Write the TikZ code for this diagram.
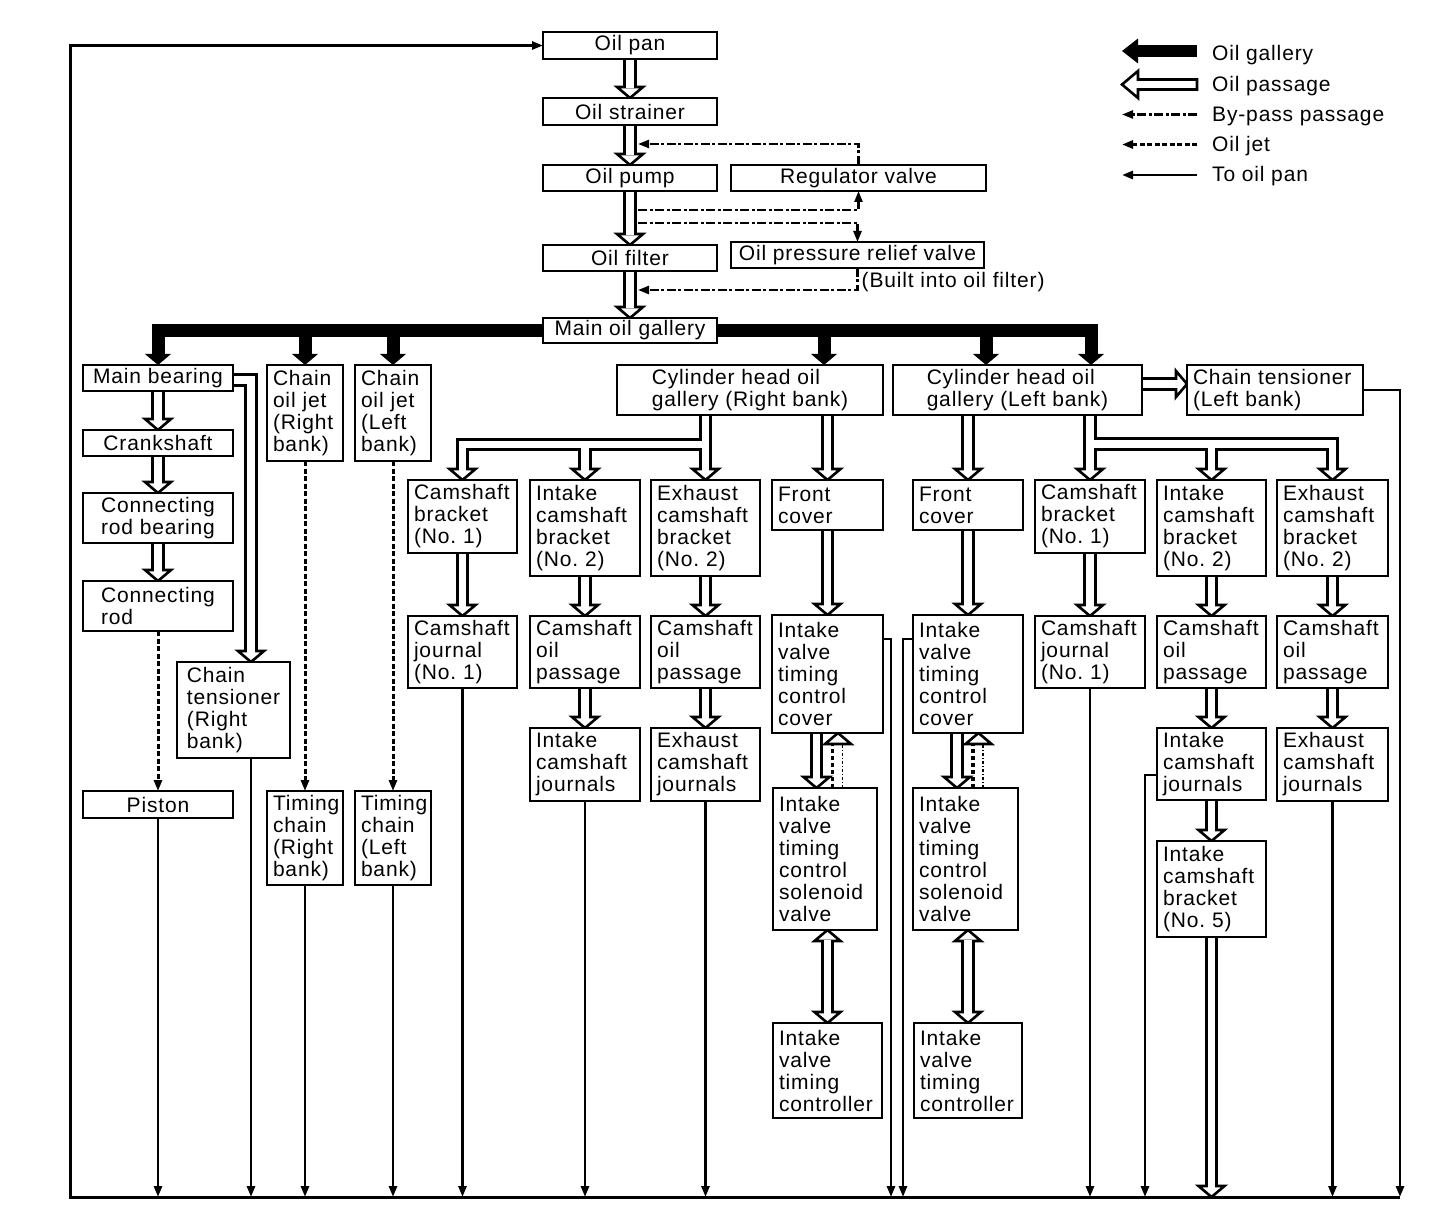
\documentclass[tikz,border=0pt]{standalone}
\usepackage{fontspec}
\setmainfont{Liberation Sans}[LetterSpace=4]
\usetikzlibrary{calc,arrows.meta}
\pgfdeclarelayer{bg}
\pgfsetlayers{bg,main}
% left-aligned box: name, x1, y1, x2, y2, text
\newcommand\lbx[6]{%
  \pgfmathsetmacro\bxw{#4-#2}\pgfmathsetmacro\bxh{#5-#3}%
  \pgfmathsetmacro\bxt{#4-#2-12}%
  \pgfmathsetmacro\bxx{(#2+#4)/2}\pgfmathsetmacro\bxy{(#3+#5)/2}%
  \node[nbox, text width=\bxt pt, minimum width=\bxw pt, minimum height=\bxh pt, inner xsep=6pt] (#1) at (\bxx,\bxy) {#6};}
% centred box
\newcommand\cbx[6]{%
  \pgfmathsetmacro\bxw{#4-#2}\pgfmathsetmacro\bxh{#5-#3}%
  \pgfmathsetmacro\bxx{(#2+#4)/2}\pgfmathsetmacro\bxy{(#3+#5)/2}%
  \node[nbox, minimum width=\bxw pt, minimum height=\bxh pt, inner xsep=4pt] (#1) at (\bxx,\bxy) {#6};}
\newcommand\hdown[1]{\draw[phead] (#1) -- ++(-13,-11) -- ++(26,0) -- cycle;}
\newcommand\hup[1]{\draw[phead] (#1) -- ++(-13,11) -- ++(26,0) -- cycle;}
\newcommand\ghead[1]{\fill (#1) -- ++(-13,-11) -- ++(26,0) -- cycle;}
\newcommand\pdown[2]{%
  \draw[pblack] (#1) -- ($(#2)+(0,-11)$);
  \hdown{#2}
  \draw[pwhite] (#1) -- ($(#2)+(0,-9.5)$);}
\newcommand\pboth[2]{%
  \draw[pblack] ($(#1)+(0,11)$) -- ($(#2)+(0,-11)$);
  \hup{#1}\hdown{#2}
  \draw[pwhite] ($(#1)+(0,9.5)$) -- ($(#2)+(0,-9.5)$);}
\begin{document}
\begin{tikzpicture}[x=1pt,y=-1pt,
  nbox/.style={draw, fill=white, line width=2.8pt, align=left, inner ysep=1pt, outer sep=0pt, font=\fontsize{21}{22}\selectfont},
  lbl/.style={inner sep=0pt, font=\fontsize{21}{22}\selectfont},
  pblack/.style={line width=13.5pt, line join=miter, line cap=butt},
  pwhite/.style={white, line width=7.5pt, line join=miter, line cap=butt},
  phead/.style={draw=black, fill=white, line width=2.6pt, line join=miter},
  gal/.style={line width=13pt, line join=miter},
  tip/.style={-{Triangle[length=11pt,width=8pt]}},
  ret/.style={line width=2.8pt, tip},
  jet/.style={line width=3pt, dash pattern=on 5pt off 2.5pt, tip},
  bypass/.style={line width=2.4pt, dash pattern=on 9pt off 2.5pt on 3pt off 2.5pt, tip},
  jetline/.style={line width=3.2pt, dash pattern=on 4pt off 3pt},
  bpline/.style={line width=1.8pt, dash pattern=on 3pt off 2pt on 1pt off 2pt}]
\useasboundingbox (0,0) rectangle (1456,1230);

% ---------- nodes ----------
\cbx{pan}{543}{32}{717}{59}{Oil pan}
\cbx{strainer}{543}{98}{717}{125}{Oil strainer}
\cbx{pump}{543}{165}{717}{191}{Oil pump}
\cbx{reg}{731}{165}{986}{191}{Regulator valve}
\cbx{filter}{543}{245}{717}{271}{Oil filter}
\cbx{relief}{731}{242}{984}{268}{Oil pressure relief valve}
\cbx{main}{543}{318}{717}{343}{Main oil gallery}
\node[lbl, anchor=west] (built) at ($(relief.south)+(4,14)$) {(Built into oil filter)};

\cbx{mb}{83}{365}{233}{391}{Main bearing}
\cbx{crank}{83}{430}{233}{456}{Crankshaft}
\cbx{crb}{83}{493}{233}{543}{Connecting\\rod bearing}
\cbx{cr}{83}{581}{233}{631}{Connecting\\rod}
\cbx{piston}{83}{791}{233}{818}{Piston}
\cbx{ctr}{177}{662}{290}{758}{Chain\\tensioner\\(Right\\bank)}
\lbx{cojr}{267}{365}{343}{461}{Chain\\oil jet\\(Right\\bank)}
\lbx{cojl}{355}{365}{431}{461}{Chain\\oil jet\\(Left\\bank)}
\lbx{tcr}{267}{791}{343}{885}{Timing\\chain\\(Right\\bank)}
\lbx{tcl}{355}{791}{431}{885}{Timing\\chain\\(Left\\bank)}

\cbx{chr}{617}{365}{883}{415}{Cylinder head oil\\gallery (Right bank)}
\lbx{cbr}{408}{480}{517}{553}{Camshaft\\bracket\\(No.\ 1)}
\lbx{icbr}{530}{480}{640}{576}{Intake\\camshaft\\bracket\\(No.\ 2)}
\lbx{ecbr}{651}{480}{760}{576}{Exhaust\\camshaft\\bracket\\(No.\ 2)}
\lbx{fcr}{772}{480}{883}{530}{Front\\cover}
\lbx{cjr}{408}{616}{517}{688}{Camshaft\\journal\\(No.\ 1)}
\lbx{copr}{530}{616}{640}{688}{Camshaft\\oil\\passage}
\lbx{eopr}{651}{616}{760}{688}{Camshaft\\oil\\passage}
\lbx{vtcr}{772}{615}{883}{733}{Intake\\valve\\timing\\control\\cover}
\lbx{icjr}{530}{728}{640}{801}{Intake\\camshaft\\journals}
\lbx{ecjr}{651}{728}{760}{801}{Exhaust\\camshaft\\journals}
\lbx{solr}{773}{788}{877}{930}{Intake\\valve\\timing\\control\\solenoid\\valve}
\lbx{ctlr}{773}{1023}{882}{1118}{Intake\\valve\\timing\\controller}

\cbx{chl}{893}{365}{1142}{415}{Cylinder head oil\\gallery (Left bank)}
\lbx{ctl}{1187}{365}{1363}{415}{Chain tensioner\\(Left bank)}
\lbx{fcl}{913}{480}{1023}{530}{Front\\cover}
\lbx{vtcl}{913}{615}{1023}{733}{Intake\\valve\\timing\\control\\cover}
\lbx{soll}{913}{788}{1018}{930}{Intake\\valve\\timing\\control\\solenoid\\valve}
\lbx{ctll}{914}{1023}{1022}{1118}{Intake\\valve\\timing\\controller}
\lbx{cbl}{1035}{480}{1145}{553}{Camshaft\\bracket\\(No.\ 1)}
\lbx{icbl}{1157}{480}{1266}{576}{Intake\\camshaft\\bracket\\(No.\ 2)}
\lbx{ecbl}{1277}{480}{1388}{576}{Exhaust\\camshaft\\bracket\\(No.\ 2)}
\lbx{cjl}{1035}{616}{1145}{688}{Camshaft\\journal\\(No.\ 1)}
\lbx{copl}{1157}{616}{1266}{688}{Camshaft\\oil\\passage}
\lbx{eopl}{1277}{616}{1388}{688}{Camshaft\\oil\\passage}
\lbx{icjl}{1157}{728}{1266}{800}{Intake\\camshaft\\journals}
\lbx{ecjl}{1277}{728}{1388}{801}{Exhaust\\camshaft\\journals}
\lbx{icb5}{1157}{841}{1266}{937}{Intake\\camshaft\\bracket\\(No.\ 5)}

% legend texts
\node[lbl, anchor=base west] (lg1) at (1212,60.5) {Oil gallery};
\node[lbl, anchor=base west] (lg2) at (1212,91.5) {Oil passage};
\node[lbl, anchor=base west] (lg3) at (1212,121.5) {By-pass passage};
\node[lbl, anchor=base west] (lg4) at (1212,151.5) {Oil jet};
\node[lbl, anchor=base west] (lg5) at (1212,182) {To oil pan};

% ---------- connectors ----------
\begin{pgfonlayer}{bg}
% main gallery (thick black)
\coordinate (g4) at ($(chr.north west)+(207,0)$);
\coordinate (g5) at ($(chl.north west)+(93,0)$);
\coordinate (g6) at ($(chl.north west)+(198,0)$);
\draw[gal] (main) -| ($(mb.north)+(0,-10)$);
\draw[gal] (main) -| ($(cojr.north)+(0,-10)$);
\draw[gal] (main) -| ($(cojl.north)+(0,-10)$);
\draw[gal] (main) -| ($(g4)+(0,-10)$);
\draw[gal] (main) -| ($(g5)+(0,-10)$);
\draw[gal] (main) -| ($(g6)+(0,-10)$);
\ghead{mb.north}\ghead{cojr.north}\ghead{cojl.north}\ghead{g4}\ghead{g5}\ghead{g6}

% top column passages
\pdown{pan.south}{strainer.north}
\pdown{strainer.south}{pump.north}
\pdown{pump.south}{filter.north}
\pdown{filter.south}{main.north}

% crank side
\pdown{mb.south}{crank.north}
\pdown{crank.south}{crb.north}
\pdown{crb.south}{cr.north}
\coordinate (m1) at ($(mb.east)+(0,2)$);
\coordinate (m2) at ($(ctr.north west)+(74,0)$);
\draw[pblack] (m1) -| ($(m2)+(0,-11)$);
\hdown{m2}
\draw[pwhite] (m1) -| ($(m2)+(0,-9.5)$);

% right bank fork
\coordinate (fr0) at (ecbr.north |- chr.south);
\coordinate (fr1) at ($(fr0)+(0,29.5)$);
\coordinate (fr2) at (icbr.north |- fr1);
\draw[pblack] (fr0) -- ($(ecbr.north)+(0,-11)$) (fr1) -| ($(cbr.north)+(0,-11)$) (fr2) -- ($(icbr.north)+(0,-11)$);
\hdown{ecbr.north}\hdown{cbr.north}\hdown{icbr.north}
\draw[pwhite] (fr0) -- ($(ecbr.north)+(0,-9.5)$) (fr1) -| ($(cbr.north)+(0,-9.5)$) (fr2) -- ($(icbr.north)+(0,-9.5)$);
\pdown{cbr.south}{cjr.north}
\pdown{icbr.south}{copr.north}
\pdown{copr.south}{icjr.north}
\pdown{ecbr.south}{eopr.north}
\pdown{eopr.south}{ecjr.north}
\coordinate (c1) at (fcr.north |- chr.south);
\pdown{c1}{fcr.north}
\pdown{fcr.south}{vtcr.north}
\coordinate (v1) at ($(vtcr.south)+(-11,0)$);
\coordinate (v2) at (v1 |- solr.north);
\pdown{v1}{v2}
\coordinate (v3) at (vtcr.south |- solr.south);
\coordinate (v4) at (vtcr.south |- ctlr.north);
\pboth{v3}{v4}
\coordinate (u0) at ($(vtcr.south)+(10.5,0)$);
\coordinate (u1) at ($(vtcr.south)+(5,11)$);
\coordinate (u2) at ($(vtcr.south)+(15,11)$);
\draw[jetline] (u1 |- solr.north) -- (u1);
\draw[bpline] (u2 |- solr.north) -- (u2);
\hup{u0}

% left bank fork
\coordinate (fl0) at (cbl.north |- chl.south);
\coordinate (fl1) at ($(fl0)+(0,29)$);
\coordinate (fl2) at (icbl.north |- fl1);
\draw[pblack] (fl0) -- ($(cbl.north)+(0,-11)$) (fl1) -| ($(ecbl.north)+(0,-11)$) (fl2) -- ($(icbl.north)+(0,-11)$);
\hdown{cbl.north}\hdown{ecbl.north}\hdown{icbl.north}
\draw[pwhite] (fl0) -- ($(cbl.north)+(0,-9.5)$) (fl1) -| ($(ecbl.north)+(0,-9.5)$) (fl2) -- ($(icbl.north)+(0,-9.5)$);
\pdown{cbl.south}{cjl.north}
\pdown{icbl.south}{copl.north}
\pdown{copl.south}{icjl.north}
\pdown{icjl.south}{icb5.north}
\pdown{ecbl.south}{eopl.north}
\pdown{eopl.south}{ecjl.north}
\coordinate (c2) at (fcl.north |- chl.south);
\pdown{c2}{fcl.north}
\pdown{fcl.south}{vtcl.north}
\coordinate (w1) at ($(vtcl.south)+(-11,0)$);
\coordinate (w2) at (w1 |- soll.north);
\pdown{w1}{w2}
\coordinate (w3) at (vtcl.south |- soll.south);
\coordinate (w4) at (vtcl.south |- ctll.north);
\pboth{w3}{w4}
\coordinate (x0) at ($(vtcl.south)+(10.5,0)$);
\coordinate (x1) at ($(vtcl.south)+(5,11)$);
\coordinate (x2) at ($(vtcl.south)+(15,11)$);
\draw[jetline] (x1 |- soll.north) -- (x1);
\draw[bpline] (x2 |- soll.north) -- (x2);
\hup{x0}

% gallery L -> chain tensioner L
\coordinate (t1) at ($(chl.east)+(0,-6)$);
\coordinate (t2) at ($(ctl.west)+(0,-6)$);
\draw[pblack] (t1) -- ($(t2)+(-11,0)$);
\draw[phead] (t2) -- ++(-11,-13) -- ++(0,26) -- cycle;
\draw[pwhite] (t1) -- ($(t2)+(-9.5,0)$);

% bottom return network
\coordinate (botL) at (70,1197);
\coordinate (botR) at (1400,1197);
\coordinate (b5) at (icb5.south |- botL);
\pdown{icb5.south}{b5}

% by-pass passages
\coordinate (bp1) at ($(strainer.south)+(8,19)$);
\coordinate (bp2) at ($(pump.south)+(8,19)$);
\coordinate (bp3) at ($(pump.south)+(8,32)$);
\coordinate (bp4) at ($(filter.south)+(8,19)$);
\draw[bypass] (reg.north) |- (bp1);
\draw[bypass] (bp2) -| (reg.south);
\draw[bypass] (bp3) -| (relief.north);
\draw[bypass] (relief.south) |- (bp4);

% oil jets
\draw[jet] (cr.south) -- (piston.north);
\draw[jet] (cojr.south) -- (tcr.north);
\draw[jet] (cojl.south) -- (tcl.north);

% to oil pan
\coordinate (r2) at ($(ctr.south west)+(74,0)$);
\draw[ret] (piston.south) -- (piston.south |- botL);
\draw[ret] (r2) -- (r2 |- botL);
\draw[ret] (tcr.south) -- (tcr.south |- botL);
\draw[ret] (tcl.south) -- (tcl.south |- botL);
\draw[ret] (cjr.south) -- (cjr.south |- botL);
\draw[ret] (icjr.south) -- (icjr.south |- botL);
\draw[ret] (ecjr.south) -- (ecjr.south |- botL);
\coordinate (r7) at ($(vtcr.north east)+(0,24)$);
\coordinate (r7b) at ($(botL)+(821,0)$);
\draw[ret] (r7) -| (r7b);
\coordinate (r8) at ($(vtcl.north west)+(0,24)$);
\coordinate (r8b) at ($(botL)+(833,0)$);
\draw[ret] (r8) -| (r8b);
\draw[ret] (cjl.south) -- (cjl.south |- botL);
\coordinate (r10) at ($(icjl.north west)+(0,47)$);
\coordinate (r10b) at ($(botL)+(1075,0)$);
\draw[ret] (r10) -| (r10b);
\draw[ret] (ecjl.south) -- (ecjl.south |- botL);
\draw[ret] (ctl.east) -| (botR);
\draw[line width=3pt, tip] (botR) -- (botL) |- (pan.west);

% legend samples
\coordinate (k0) at ($(lg1.base west)+(-90,-9.5)$);
\coordinate (k1) at ($(lg1.base west)+(-15,-9.5)$);
\draw[line width=12pt] (k1) -- ($(k0)+(14,0)$);
\fill (k0) -- ++(16,-12.5) -- ++(0,25) -- cycle;
\coordinate (h0) at ($(lg2.base west)+(-90,-7)$);
\draw[line width=2.6pt, fill=white, line join=miter] (h0) -- ++(16,-13.5) -- ++(0,8.5) -- ++(59,0) -- ++(0,10) -- ++(-59,0) -- ++(0,8.5) -- cycle;
\coordinate (s3a) at ($(lg3.base west)+(-15,-7)$);
\coordinate (s3b) at ($(lg3.base west)+(-90,-7)$);
\draw[bypass] (s3a) -- (s3b);
\coordinate (s4a) at ($(lg4.base west)+(-15,-7)$);
\coordinate (s4b) at ($(lg4.base west)+(-90,-7)$);
\draw[jet] (s4a) -- (s4b);
\coordinate (s5a) at ($(lg5.base west)+(-15,-7)$);
\coordinate (s5b) at ($(lg5.base west)+(-90,-7)$);
\draw[ret] (s5a) -- (s5b);
\end{pgfonlayer}
\end{tikzpicture}
\end{document}
